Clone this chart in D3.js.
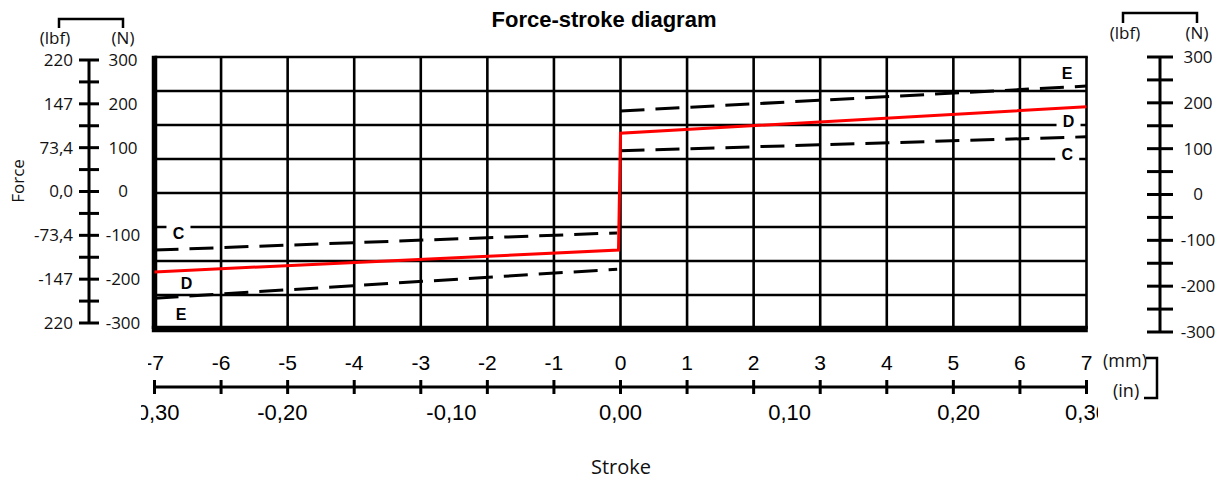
<!DOCTYPE html>
<html>
<head>
<meta charset="utf-8">
<script src="https://cdn.jsdelivr.net/npm/d3@7"></script>
<style>
  html, body { margin: 0; padding: 0; background: #fff; }
  svg { display: block; }
  .sans { font-family: 'Open Sans', 'Noto Sans', sans-serif; fill: #111; }
  .arial { font-family: 'Liberation Sans', Arial, sans-serif; fill: #000; }
</style>
</head>
<body>
<div id="chart"></div>
<script>
// Force-stroke diagram

// stroke axis (mm) and its inch companion
const strokeTicksMm = [-7, -6, -5, -4, -3, -2, -1, 0, 1, 2, 3, 4, 5, 6, 7];
const strokeInch = [-0.30, -0.20, -0.10, 0.00, 0.10, 0.20, 0.30];
const strokeInchLabels = ['-0,30', '-0,20', '-0,10', '0,00', '0,10', '0,20', '0,30'];

// force axes (N) with lbf labels as printed
const forceTicksN = [300, 200, 100, 0, -100, -200, -300];
const forceMinorN = [250, 150, 50, -50, -150, -250];
const forceLbfLabels = ['220', '147', '73,4', '0,0', '-73,4', '-147', '220'];
const gridForceN = [-225, -150, -75, 0, 75, 150, 225];

// curves: [stroke mm, force N]
const curveD = [[-7, -174], [-0.03, -126], [0, 132], [7, 190]];
const curveCUpper = [[0, 93], [7, 124]];
const curveCLower = [[-7, -126], [-0.05, -88]];
const curveEUpper = [[0, 181], [7, 236]];
const curveELower = [[-7, -232], [-0.05, -168]];

const curveNames = ['E', 'D', 'C', 'C', 'D', 'E'];
const curveLabelStroke = [6.71, 6.73, 6.71, -6.64, -6.52, -6.6];
const curveLabelForce = [265, 159, 86, -88, -199, -267];

const W = 1228, H = 481;
const svg = d3.select('#chart').append('svg')
    .attr('width', W)
    .attr('height', H)
    .attr('viewBox', [0, 0, W, H]);

svg.append('rect').attr('width', W).attr('height', H).attr('fill', '#fff');

const x = d3.scaleLinear().domain([-7, 7]).range([154.5, 1086.5]);
const yPlot = d3.scaleLinear().domain([-300, 300]).range([329, 57]);
const yLeft = d3.scaleLinear().domain([-300, 300]).range([323, 60]);
const yRight = d3.scaleLinear().domain([-300, 300]).range([332, 57]);

// title
svg.append('text')
    .attr('class', 'arial')
    .attr('x', 604).attr('y', 27)
    .attr('text-anchor', 'middle')
    .attr('font-size', 22)
    .attr('font-weight', 'bold')
    .text('Force-stroke diagram');

// ---- plot grid
const plot = svg.append('g');

plot.append('g').selectAll('line')
    .data(strokeTicksMm.slice(1, -1))
    .join('line')
    .attr('x1', d => x(d)).attr('x2', d => x(d))
    .attr('y1', yPlot(300)).attr('y2', yPlot(-300))
    .attr('stroke', '#000').attr('stroke-width', 2.6);

plot.append('g').selectAll('line')
    .data(gridForceN)
    .join('line')
    .attr('x1', x(-7)).attr('x2', x(7))
    .attr('y1', d => yPlot(d)).attr('y2', d => yPlot(d))
    .attr('stroke', '#000').attr('stroke-width', 2.6);

// frame: thin top/right, heavy left/bottom
plot.append('line').attr('x1', x(-7)).attr('x2', x(7) + 1.3)
    .attr('y1', yPlot(300)).attr('y2', yPlot(300))
    .attr('stroke', '#000').attr('stroke-width', 2.6);
plot.append('line').attr('x1', x(7)).attr('x2', x(7))
    .attr('y1', yPlot(300)).attr('y2', yPlot(-300))
    .attr('stroke', '#000').attr('stroke-width', 2.6);
plot.append('line').attr('x1', x(-7)).attr('x2', x(-7))
    .attr('y1', yPlot(300) - 1.3).attr('y2', yPlot(-300))
    .attr('stroke', '#000').attr('stroke-width', 5.5);
plot.append('line').attr('x1', x(-7) - 2.7).attr('x2', x(7) + 1.3)
    .attr('y1', yPlot(-300)).attr('y2', yPlot(-300))
    .attr('stroke', '#000').attr('stroke-width', 6.5);

// ---- curves
const line = d3.line().x(d => x(d[0])).y(d => yPlot(d[1]));

[curveCUpper, curveCLower, curveEUpper, curveELower].forEach(c => {
    plot.append('path')
        .attr('d', line(c))
        .attr('fill', 'none')
        .attr('stroke', '#000')
        .attr('stroke-width', 3)
        .attr('stroke-dasharray', '24 11');
});

plot.append('path')
    .attr('d', line(curveD))
    .attr('fill', 'none')
    .attr('stroke', '#ff0000')
    .attr('stroke-width', 3)
    .attr('stroke-linejoin', 'miter');

// curve letters on white patches
const labels = plot.append('g').selectAll('g')
    .data(curveNames.map((n, i) => ({ name: n, sx: curveLabelStroke[i], f: curveLabelForce[i] })))
    .join('g')
    .attr('transform', d => `translate(${x(d.sx)},${yPlot(d.f)})`);
labels.append('rect')
    .attr('x', -12).attr('y', -8).attr('width', 24).attr('height', 16)
    .attr('fill', '#fff');
labels.append('text')
    .attr('class', 'arial')
    .attr('text-anchor', 'middle')
    .attr('dy', '0.36em')
    .attr('font-size', 16)
    .attr('font-weight', 'bold')
    .text(d => d.name);

// ---- left force axis
const left = svg.append('g');
left.append('path')
    .attr('d', 'M59,28V19H123V28')
    .attr('fill', 'none').attr('stroke', '#000').attr('stroke-width', 2.5);
left.append('text').attr('class', 'sans')
    .attr('x', 55).attr('y', 38).attr('dy', '0.35em')
    .attr('text-anchor', 'middle').attr('font-size', 17).text('(lbf)');
left.append('text').attr('class', 'sans')
    .attr('x', 123).attr('y', 38).attr('dy', '0.35em')
    .attr('text-anchor', 'middle').attr('font-size', 17).text('(N)');

left.append('line')
    .attr('x1', 89).attr('x2', 89)
    .attr('y1', yLeft(300)).attr('y2', yLeft(-300))
    .attr('stroke', '#000').attr('stroke-width', 3);
left.append('g').selectAll('line')
    .data(forceTicksN.concat(forceMinorN))
    .join('line')
    .attr('x1', 79).attr('x2', 99)
    .attr('y1', d => yLeft(d)).attr('y2', d => yLeft(d))
    .attr('stroke', '#000').attr('stroke-width', 3);
left.append('g').selectAll('text')
    .data(forceTicksN)
    .join('text')
    .attr('class', 'sans')
    .attr('x', 73).attr('y', d => yLeft(d)).attr('dy', '0.35em')
    .attr('text-anchor', 'end').attr('font-size', 17)
    .text((d, i) => forceLbfLabels[i]);
left.append('g').selectAll('text')
    .data(forceTicksN)
    .join('text')
    .attr('class', 'sans')
    .attr('x', 123).attr('y', d => yLeft(d)).attr('dy', '0.35em')
    .attr('text-anchor', 'middle').attr('font-size', 17)
    .text(d => d);

svg.append('text').attr('class', 'sans')
    .attr('transform', 'translate(18,181) rotate(-90)')
    .attr('dy', '0.35em')
    .attr('text-anchor', 'middle').attr('font-size', 17)
    .text('Force');

// ---- right force axis
const right = svg.append('g');
right.append('path')
    .attr('d', 'M1123,23V13H1197V23')
    .attr('fill', 'none').attr('stroke', '#000').attr('stroke-width', 2.5);
right.append('text').attr('class', 'sans')
    .attr('x', 1125).attr('y', 33).attr('dy', '0.35em')
    .attr('text-anchor', 'middle').attr('font-size', 17).text('(lbf)');
right.append('text').attr('class', 'sans')
    .attr('x', 1197).attr('y', 33).attr('dy', '0.35em')
    .attr('text-anchor', 'middle').attr('font-size', 17).text('(N)');

right.append('line')
    .attr('x1', 1160).attr('x2', 1160)
    .attr('y1', yRight(300)).attr('y2', yRight(-300))
    .attr('stroke', '#000').attr('stroke-width', 3);
right.append('g').selectAll('line')
    .data(forceTicksN.concat(forceMinorN))
    .join('line')
    .attr('x1', 1147).attr('x2', 1173)
    .attr('y1', d => yRight(d)).attr('y2', d => yRight(d))
    .attr('stroke', '#000').attr('stroke-width', 3);
right.append('g').selectAll('text')
    .data(forceTicksN)
    .join('text')
    .attr('class', 'sans')
    .attr('x', 1198).attr('y', d => yRight(d)).attr('dy', '0.35em')
    .attr('text-anchor', 'middle').attr('font-size', 17)
    .text(d => d);

// ---- stroke axis
const defs = svg.append('defs');
defs.append('clipPath').attr('id', 'clip-mm')
    .append('rect').attr('x', 148).attr('y', 340).attr('width', 952).attr('height', 40);
defs.append('clipPath').attr('id', 'clip-in')
    .append('rect').attr('x', 141).attr('y', 395).attr('width', 957).attr('height', 40);

const bottom = svg.append('g');
bottom.append('line')
    .attr('x1', x(-7)).attr('x2', x(7))
    .attr('y1', 387).attr('y2', 387)
    .attr('stroke', '#000').attr('stroke-width', 3);
bottom.append('g').selectAll('line')
    .data(strokeTicksMm)
    .join('line')
    .attr('x1', d => x(d)).attr('x2', d => x(d))
    .attr('y1', 380).attr('y2', 394)
    .attr('stroke', '#000').attr('stroke-width', 3);
bottom.append('g').attr('clip-path', 'url(#clip-mm)')
    .selectAll('text')
    .data(strokeTicksMm)
    .join('text')
    .attr('class', 'arial')
    .attr('x', d => x(d)).attr('y', 362).attr('dy', '0.36em')
    .attr('text-anchor', 'middle').attr('font-size', 21)
    .text(d => d);
bottom.append('g').attr('clip-path', 'url(#clip-in)')
    .selectAll('text')
    .data(strokeInch)
    .join('text')
    .attr('class', 'arial')
    .attr('x', d => x(Math.max(-7, Math.min(7, d * 25.4))))
    .attr('y', 412).attr('dy', '0.36em')
    .attr('text-anchor', 'middle').attr('font-size', 22)
    .text((d, i) => strokeInchLabels[i]);

bottom.append('text').attr('class', 'sans')
    .attr('x', 1103).attr('y', 361).attr('dy', '0.35em')
    .attr('font-size', 18).text('(mm)');
bottom.append('text').attr('class', 'sans')
    .attr('x', 1113).attr('y', 391).attr('dy', '0.35em')
    .attr('font-size', 18).text('(in)');
bottom.append('path')
    .attr('d', 'M1146,358H1157V398H1144')
    .attr('fill', 'none').attr('stroke', '#000').attr('stroke-width', 2.5);

svg.append('text').attr('class', 'sans')
    .attr('x', 621).attr('y', 467).attr('dy', '0.35em')
    .attr('text-anchor', 'middle').attr('font-size', 20)
    .text('Stroke');
</script>
</body>
</html>
